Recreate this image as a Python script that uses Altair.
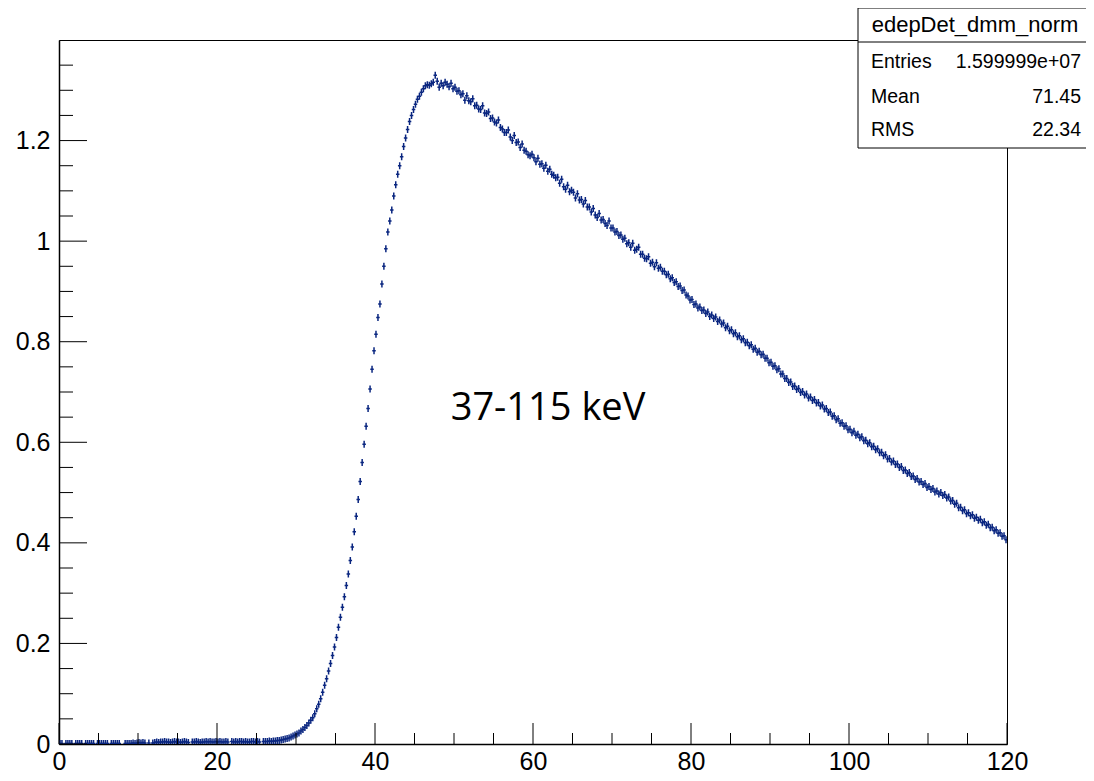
import altair as alt
import pandas as pd

# ---------------- data (bin contents, 0.25 keV bins) ----------------
bin_width = 0.25
vals_00_10 = [0.001,0.001,0.000,0.001, 0.001,0.001,0.001,0.000, 0.001,0.001,0.001,0.001,
              0.000,0.001,0.001,0.001, 0.001,0.001,0.000,0.001, 0.001,0.001,0.001,0.001,
              0.001,0.000,0.001,0.001, 0.001,0.001,0.001,0.000, 0.000,0.001,0.001,0.001,
              0.001,0.002,0.001,0.002]
vals_10_20 = [0.003,0.002,0.003,0.002, 0.000,0.002,0.000,0.002, 0.003,0.004,0.003,0.004,
              0.004,0.005,0.004,0.004, 0.003,0.004,0.005,0.004, 0.004,0.003,0.004,0.005,
              0.004,0.003,0.000,0.004, 0.004,0.005,0.004,0.003, 0.004,0.004,0.005,0.004,
              0.005,0.004,0.004,0.005]
vals_20_30 = [0.004,0.005,0.004,0.004, 0.005,0.004,0.000,0.005, 0.004,0.005,0.004,0.005,
              0.005,0.004,0.005,0.004, 0.004,0.005,0.005,0.004, 0.005,0.004,0.000,0.005,
              0.005,0.005,0.006,0.005, 0.006,0.006,0.007,0.007, 0.008,0.009,0.010,0.011,
              0.012,0.014,0.016,0.018]
vals_30_40 = [0.020,0.022,0.026,0.029, 0.033,0.037,0.042,0.047, 0.052,0.060,0.070,0.079,
              0.090,0.103,0.117,0.130, 0.145,0.160,0.176,0.193, 0.212,0.232,0.252,0.272,
              0.293,0.315,0.338,0.365, 0.392,0.422,0.453,0.486, 0.522,0.560,0.596,0.632,
              0.667,0.706,0.745,0.782]
vals_40_50 = [0.815,0.848,0.875,0.915, 0.950,0.985,1.018,1.040, 1.062,1.090,1.112,1.133,
              1.150,1.168,1.188,1.205, 1.222,1.238,1.250,1.262, 1.272,1.282,1.288,1.296,
              1.303,1.309,1.311,1.310, 1.313,1.316,1.330,1.318, 1.306,1.314,1.309,1.316,
              1.312,1.307,1.314,1.303]
vals_50_60 = [1.306,1.298,1.299,1.291, 1.293,1.280,1.289,1.279, 1.277,1.283,1.269,1.270,
              1.263,1.262,1.269,1.255, 1.254,1.257,1.244,1.245, 1.237,1.235,1.241,1.226,
              1.223,1.216,1.216,1.221, 1.207,1.200,1.210,1.196, 1.197,1.186,1.193,1.181,
              1.179,1.172,1.170,1.173]
vals_60_70 = [1.166,1.158,1.165,1.153, 1.154,1.145,1.151,1.139, 1.143,1.133,1.131,1.126,
              1.127,1.115,1.123,1.108, 1.103,1.111,1.098,1.101, 1.097,1.086,1.094,1.082,
              1.083,1.074,1.081,1.068, 1.068,1.058,1.065,1.052, 1.047,1.055,1.042,1.043,
              1.035,1.031,1.040,1.026]
vals_70_80 = [1.026,1.018,1.019,1.011, 1.012,1.004,1.006,0.995, 0.997,0.988,0.996,0.982,
              0.984,0.988,0.974,0.974, 0.966,0.965,0.969,0.956, 0.958,0.949,0.957,0.946,
              0.948,0.940,0.940,0.933, 0.934,0.925,0.927,0.918, 0.919,0.910,0.911,0.902,
              0.903,0.893,0.891,0.883]
vals_80_90 = [0.884,0.874,0.875,0.867, 0.869,0.862,0.863,0.856, 0.859,0.850,0.853,0.846,
              0.849,0.840,0.843,0.835, 0.837,0.828,0.831,0.822, 0.824,0.816,0.818,0.810,
              0.812,0.804,0.806,0.798, 0.799,0.792,0.794,0.785, 0.787,0.779,0.781,0.774,
              0.775,0.767,0.767,0.758]
vals_90_100 = [0.759,0.751,0.752,0.744, 0.746,0.736,0.736,0.727, 0.727,0.719,0.720,0.711,
               0.712,0.705,0.707,0.699, 0.701,0.694,0.696,0.688, 0.690,0.683,0.685,0.678,
               0.679,0.672,0.674,0.666, 0.667,0.659,0.660,0.652, 0.653,0.645,0.647,0.638,
               0.639,0.632,0.633,0.625]
vals_100_110 = [0.626,0.619,0.622,0.614, 0.616,0.609,0.611,0.603, 0.604,0.597,0.599,0.591,
                0.592,0.585,0.587,0.579, 0.580,0.573,0.575,0.567, 0.568,0.561,0.563,0.556,
                0.557,0.550,0.552,0.544, 0.545,0.538,0.540,0.532, 0.533,0.526,0.528,0.521,
                0.522,0.516,0.518,0.510]
vals_110_120 = [0.512,0.506,0.508,0.501, 0.503,0.497,0.500,0.494, 0.496,0.489,0.491,0.483,
                0.484,0.477,0.479,0.470, 0.471,0.464,0.466,0.458, 0.460,0.454,0.456,0.449,
                0.451,0.445,0.447,0.440, 0.442,0.435,0.437,0.430, 0.431,0.424,0.426,0.419,
                0.420,0.413,0.414,0.406]

values = (vals_00_10 + vals_10_20 + vals_20_30 + vals_30_40 + vals_40_50 + vals_50_60 +
          vals_60_70 + vals_70_80 + vals_80_90 + vals_90_100 + vals_100_110 + vals_110_120)
centers = [bin_width * (i + 0.5) for i in range(len(values))]

x_major = [0, 20, 40, 60, 80, 100, 120]
x_minor = [5, 10, 15, 25, 30, 35, 45, 50, 55, 65, 70, 75, 85, 90, 95, 105, 110, 115]
y_major = [0, 0.2, 0.4, 0.6, 0.8, 1.0, 1.2]
y_minor = [0.05, 0.1, 0.15, 0.25, 0.3, 0.35, 0.45, 0.5, 0.55, 0.65, 0.7, 0.75,
           0.85, 0.9, 0.95, 1.05, 1.1, 1.15, 1.25, 1.3, 1.35]

hist_name = "edepDet_dmm_norm"
stat_labels = ["Entries", "Mean", "RMS"]
stat_values = ["1.599999e+07", "71.45", "22.34"]
annotation = "37-115 keV"

# ---------------- chart ----------------
W, H = 948, 704
COLOR = "#0a2680"
FONT = "Liberation Sans"

xs = alt.Scale(domain=[0, 120], nice=False, zero=False)
ys = alt.Scale(domain=[0, 1.4], nice=False, zero=False)

x_axis = alt.Axis(values=x_major, format="d", tickSize=0, labelFontSize=25, labelFont=FONT,
                  labelColor="black", labelPadding=5, labelFlush=False, labelOverlap=False,
                  domainColor="black", domainWidth=1.5, grid=False, title=None)
y_axis = alt.Axis(values=y_major, format=".1~f", tickSize=0, labelFontSize=25, labelFont=FONT,
                  labelColor="black", labelPadding=9, labelFlush=False, labelOverlap=False,
                  domainColor="black", domainWidth=1.5, grid=False, title=None)

df = pd.DataFrame({"x": centers, "v": values})

points = alt.Chart(df).transform_filter("datum.v > 0").mark_point(
    shape="M-0.5,0H0.5M0,-1V1", filled=False, stroke=COLOR, strokeWidth=1.5,
    size=49, opacity=1, clip=True
).encode(
    x=alt.X("x:Q", scale=xs, axis=x_axis),
    y=alt.Y("v:Q", scale=ys, axis=y_axis),
)

def xticks(vals, length):
    return alt.Chart(pd.DataFrame({"t": vals})).mark_rule(color="black", strokeWidth=1).encode(
        x=alt.X("t:Q", scale=xs, axis=x_axis), y=alt.value(H), y2=alt.value(H - length))

def yticks(vals, length):
    return alt.Chart(pd.DataFrame({"t": vals})).mark_rule(color="black", strokeWidth=1).encode(
        y=alt.Y("t:Q", scale=ys, axis=y_axis), x=alt.value(0), x2=alt.value(length))

dummy = pd.DataFrame({"a": [0]})

annot = alt.Chart(dummy).mark_text(
    text=annotation, font="Open Sans", fontSize=38, color="black",
    align="center", baseline="alphabetic"
).encode(x=alt.value(489), y=alt.value(380))

box = alt.Chart(dummy).mark_rect(fill="white", stroke="black", strokeWidth=1).encode(
    x=alt.value(799), x2=alt.value(1060), y=alt.value(-32), y2=alt.value(108))
sep = alt.Chart(dummy).mark_rule(color="black", strokeWidth=1).encode(
    x=alt.value(799), x2=alt.value(1060), y=alt.value(2))
title_txt = alt.Chart(dummy).mark_text(
    text=hist_name, font=FONT, fontSize=22, color="black", align="center", baseline="middle"
).encode(x=alt.value(916), y=alt.value(-15))

row_y = [22, 57, 90]
stat_layers = []
for lab, val, yy in zip(stat_labels, stat_values, row_y):
    stat_layers.append(alt.Chart(dummy).mark_text(
        text=lab, font=FONT, fontSize=19.5, color="black", align="left", baseline="middle"
    ).encode(x=alt.value(812), y=alt.value(yy)))
    stat_layers.append(alt.Chart(dummy).mark_text(
        text=val, font=FONT, fontSize=19.5, color="black", align="right", baseline="middle"
    ).encode(x=alt.value(1022), y=alt.value(yy)))

chart = alt.layer(
    points,
    xticks(x_major, 21), xticks(x_minor, 11),
    yticks(y_major, 28), yticks(y_minor, 14),
    annot, box, sep, title_txt, *stat_layers
).properties(
    width=W, height=H,
    padding={"left": 51, "top": 32, "right": 79, "bottom": 32},
    autosize=alt.AutoSizeParams(type="none"),
    background="white",
).configure_view(stroke="black", strokeWidth=1)

chart.save("out.html", embed_options={"renderer": "svg", "actions": False})
